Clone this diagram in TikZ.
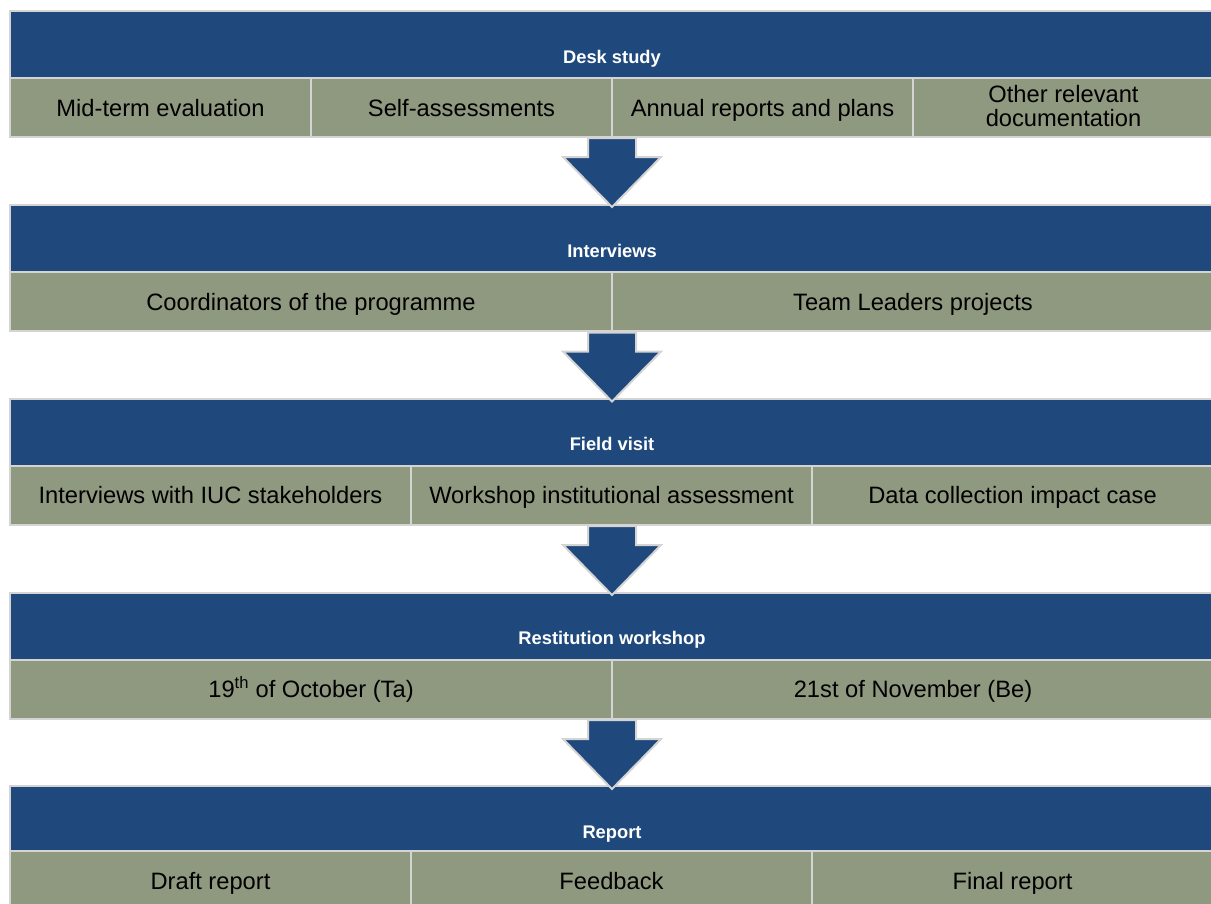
\documentclass[tikz,border=0pt]{standalone}
\usepackage{fontspec}
\setmainfont{Liberation Sans}
\definecolor{hdr}{RGB}{31,73,125}
\definecolor{cellc}{RGB}{143,153,128}
\definecolor{edge}{RGB}{212,212,212}
\begin{document}
\begin{tikzpicture}[x=1pt,y=-1pt,
  hdrbox/.style={rectangle, draw=edge, line width=2pt, fill=hdr, anchor=north west, inner sep=0pt, outer sep=0pt, minimum width=1204pt, minimum height=67pt},
  cellbase/.style={rectangle, draw=edge, line width=2pt, fill=cellc, anchor=north west, inner sep=0pt, outer sep=0pt, minimum height=59pt, text=black, font=\fontsize{23.7}{24}\selectfont},
  cellbox/.style={cellbase, text height=17pt, text depth=0pt},
  multitext/.style={inner sep=0pt, outer sep=0pt, align=center, text=black, font=\fontsize{23.7}{24}\selectfont},
  titletext/.style={inner sep=0pt, outer sep=0pt, text height=13.1pt, text depth=0pt, text=white, font=\bfseries\fontsize{18.3}{20}\selectfont},
  blockarrow/.style={draw=edge, line width=2pt, fill=hdr, line join=miter}
]
\useasboundingbox (0,0) rectangle (1211,903);

% Block 1: Desk study
\node[hdrbox] (h1) at (10,11) {};
\node[titletext] (t1) at ([yshift=-45.5pt]h1.north) {Desk study};
\node[cellbox, minimum width=301pt] (d1) at (10,78) {Mid-term evaluation};
\node[cellbox, minimum width=301pt] (d2) at (311,78) {Self-assessments};
\node[cellbox, minimum width=301pt] (d3) at (612,78) {Annual reports and plans};
\node[cellbase, minimum width=301pt] (d4) at (913,78) {};
\node[multitext] (d4t) at ([yshift=1pt]d4.center) {Other relevant\\documentation};

% Block 2: Interviews
\node[hdrbox] (h2) at (10,205) {};
\node[titletext] (t2) at ([yshift=-45.5pt]h2.north) {Interviews};
\node[cellbox, minimum width=602pt] (i1) at (10,272) {Coordinators of the programme};
\node[cellbox, minimum width=602pt] (i2) at (612,272) {Team Leaders projects};

% Block 3: Field visit
\node[hdrbox] (h3) at (10,398.5) {};
\node[titletext] (t3) at ([yshift=-45.5pt]h3.north) {Field visit};
\node[cellbox, minimum width=401pt] (f1) at (10,465.5) {Interviews with IUC stakeholders};
\node[cellbox, minimum width=401pt] (f2) at (411,465.5) {Workshop institutional assessment};
\node[cellbox, minimum width=401pt] (f3) at (812,465.5) {Data collection impact case};

% Block 4: Restitution workshop
\node[hdrbox] (h4) at (10,592.5) {};
\node[titletext] (t4) at ([yshift=-45.5pt]h4.north) {Restitution workshop};
\node[cellbox, minimum width=602pt] (r1) at (10,659.5) {19\textsuperscript{th} of October (Ta)};
\node[cellbox, minimum width=602pt] (r2) at (612,659.5) {21st of November (Be)};

% Block 5: Report
\node[hdrbox, minimum height=65pt] (h5) at (10,786) {};
\node[titletext] (t5) at ([yshift=-45.5pt]h5.north) {Report};
\node[cellbox, minimum width=401pt] (p1) at (10,851) {Draft report};
\node[cellbox, minimum width=401pt] (p2) at (411,851) {Feedback};
\node[cellbox, minimum width=401pt] (p3) at (812,851) {Final report};

% Block arrows
\coordinate (a1) at (612,138);
\coordinate (a2) at (612,332.5);
\coordinate (a3) at (612,526);
\coordinate (a4) at (612,720);
\foreach \c in {a1,a2,a3,a4}{
  \draw[blockarrow] (\c) ++(-24,0) -- ++(0,19) -- ++(-25,0) -- ++(49,50) -- ++(49,-50) -- ++(-25,0) -- ++(0,-19) -- cycle;
}
\end{tikzpicture}
\end{document}
